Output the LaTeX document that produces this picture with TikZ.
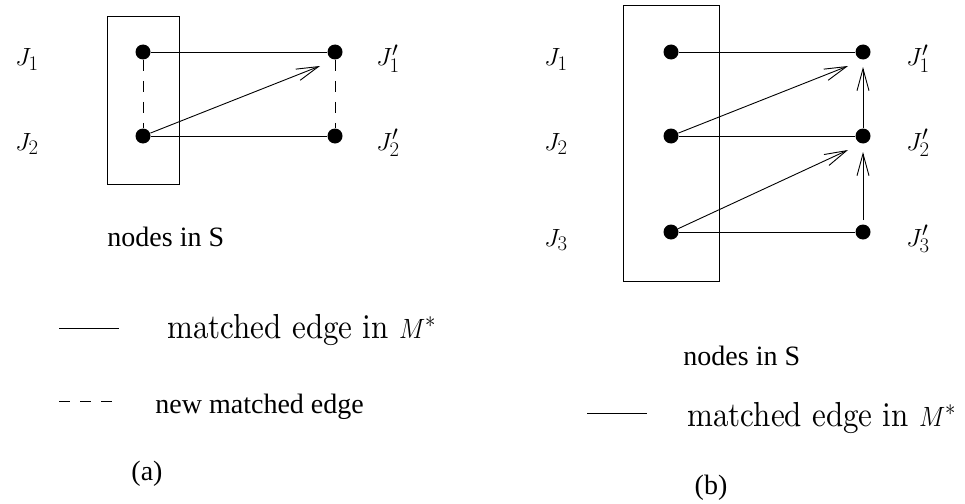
\documentclass[tikz,border=0pt]{standalone}
\usepackage{fontspec}
\usetikzlibrary{arrows.meta}
\newfontfamily\tms{Liberation Serif}
\newfontfamily\cmten{lmroman10-regular}[Extension=.otf]
\begin{document}
\begin{tikzpicture}[x=1pt,y=-1pt, line width=0.9pt,
 dot/.style={circle,fill,inner sep=0,minimum size=15pt},
 arr/.style={-{Straight Barb[length=22pt,width=12pt]}},
 dsh/.style={dash pattern=on 11pt off 10pt},
 lbl/.style={inner sep=0, font=\fontsize{28}{32}\selectfont},
 tms/.style={inner sep=0, font=\fontsize{28}{32}\selectfont\tms},
 cmt/.style={inner sep=0, font=\fontsize{31}{35}\selectfont\cmten},
 boxs/.style={draw, inner sep=0}]
\useasboundingbox (0,0) rectangle (965,503);

% ---------- panel (a) ----------
\node[boxs, minimum width=72pt, minimum height=168pt] (boxA) at (143,100) {};
\node[dot] (a1) at (143,52) {};
\node[dot] (a2) at (143,136) {};
\node[dot] (ap1) at (335,52) {};
\node[dot] (ap2) at (335,136) {};
\node[lbl, anchor=base] (la1) at (27,66) {$J_1$};
\node[lbl, anchor=base] (la2) at (27,150) {$J_2$};
\node[lbl, anchor=base] (lap1) at (388,66) {$J'_1$};
\node[lbl, anchor=base] (lap2) at (388,150) {$J'_2$};
\draw (a1) -- (ap1);
\draw (a2) -- (ap2);
\draw[dsh] (a1) -- (a2);
\draw[dsh] (ap1) -- (ap2);
\coordinate (ta) at (320,66);
\draw[arr] (a2) -- (ta);
\node[tms, anchor=base west] (nsa) at (107,246) {nodes in S};
\coordinate (la) at (59,328); \coordinate (lb) at (119,328);
\draw (la) -- (lb);
\node[cmt, anchor=base west] (mea) at (167,338) {\scalebox{1}[1.12]{matched edge in $M^*$}};
\coordinate (da) at (59,401); \coordinate (db) at (113,401);
\draw[dsh] (da) -- (db);
\node[tms, anchor=base west] (nme) at (155,413) {new matched edge};
\node[tms] (capa) at (147,474) {(a)};

% ---------- panel (b) ----------
\node[boxs, minimum width=96pt, minimum height=276pt] (boxB) at (671,143) {};
\node[dot] (b1) at (671,52) {};
\node[dot] (b2) at (671,136) {};
\node[dot] (b3) at (671,232) {};
\node[dot] (bp1) at (863,52) {};
\node[dot] (bp2) at (863,136) {};
\node[dot] (bp3) at (863,232) {};
\node[lbl, anchor=base] (lb1) at (556,66) {$J_1$};
\node[lbl, anchor=base] (lb2) at (556,150) {$J_2$};
\node[lbl, anchor=base] (lb3) at (556,246) {$J_3$};
\node[lbl, anchor=base] (lbp1) at (918,66) {$J'_1$};
\node[lbl, anchor=base] (lbp2) at (918,150) {$J'_2$};
\node[lbl, anchor=base] (lbp3) at (918,246) {$J'_3$};
\draw (b1) -- (bp1);
\draw (b2) -- (bp2);
\draw (b3) -- (bp3);
\coordinate (tb1) at (848,66);
\coordinate (tb2) at (848,150);
\coordinate (tv1) at (863,67);
\coordinate (tv2) at (863,152);
\coordinate (sv2) at (863,220);
\draw[arr] (b2) -- (tb1);
\draw[arr] (b3) -- (tb2);
\draw[arr] (bp2) -- (tv1);
\draw[arr] (sv2) -- (tv2);
\node[tms, anchor=base west] (nsb) at (683,365) {nodes in S};
\coordinate (lc) at (587,413); \coordinate (ld) at (647,413);
\draw (lc) -- (ld);
\node[cmt, anchor=base west] (meb) at (687,426) {\scalebox{1}[1.12]{matched edge in $M^*$}};
\node[tms] (capb) at (711,488) {(b)};
\end{tikzpicture}
\end{document}
